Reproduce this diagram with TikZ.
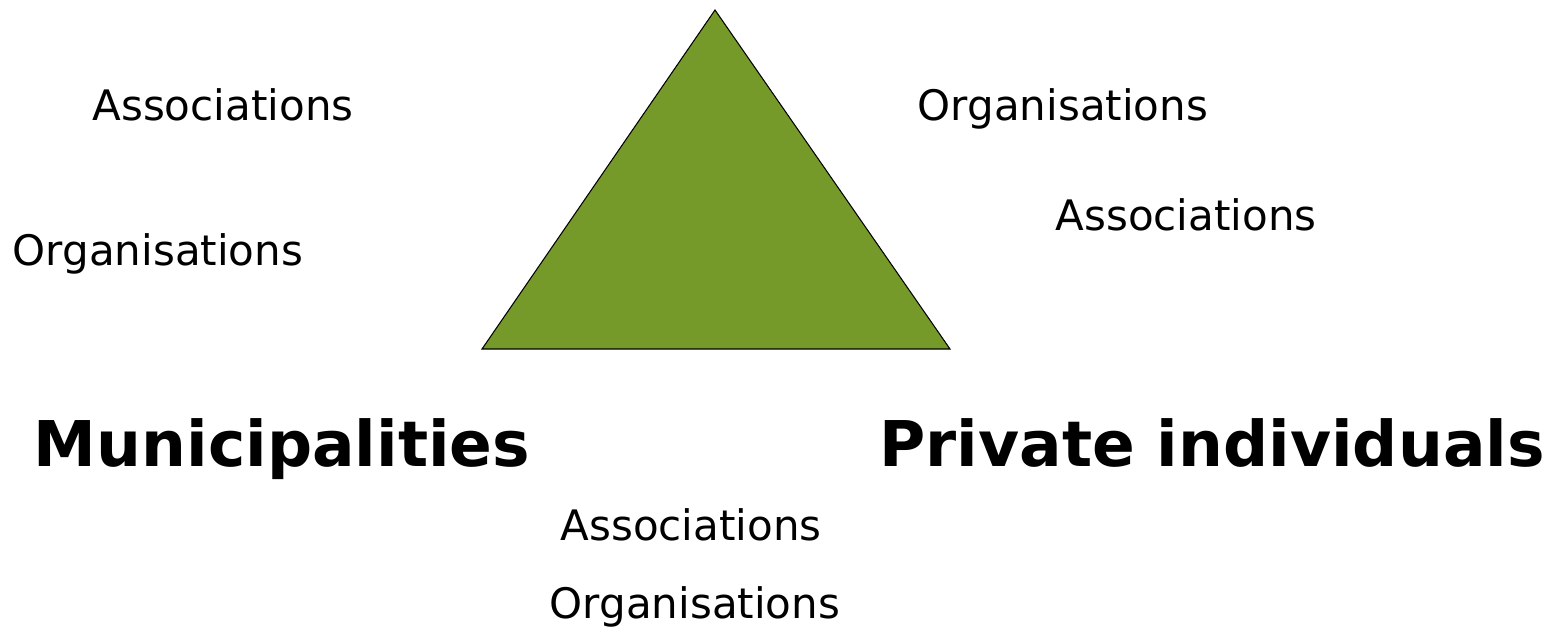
\documentclass[tikz,border=0pt]{standalone}
\usepackage{fontspec}
\setmainfont{DejaVu Sans}
\usepackage{tikz}

\definecolor{leafgreen}{HTML}{759A2A}
\tikzset{
    minor/.style={anchor=base, inner sep=0pt, font=\fontsize{23.9}{28}\selectfont},
    major/.style={anchor=base, inner sep=0pt, font=\fontsize{35.9}{42}\selectfont\bfseries}
}

\begin{document}
\begin{tikzpicture}[x=0.02cm, y=-0.02cm]
        \useasboundingbox (0, 0) rectangle (1557, 630);
        \coordinate (apex) at (715, 10);
        \coordinate (baseL) at (482, 349);
        \coordinate (baseR) at (950, 349);
        \filldraw [fill=leafgreen, draw=black, line width=0.6pt, line join=miter] (apex) -- (baseL) -- (baseR) -- cycle;

        \node [minor] (assocTL) at (223, 120) {Associations};
        \node [minor] (orgL) at (158, 265) {Organisations};
        \node [minor] (orgTR) at (1063, 120) {Organisations};
        \node [minor] (assocR) at (1186, 230) {Associations};

        \node [major] (munic) at (282, 466) {Municipalities};
        \node [major] (priv) at (1212, 466) {Private individuals};

        \node [minor] (assocB) at (691, 540) {Associations};
        \node [minor] (orgB) at (695, 618) {Organisations};
    \end{tikzpicture}
\end{document}
